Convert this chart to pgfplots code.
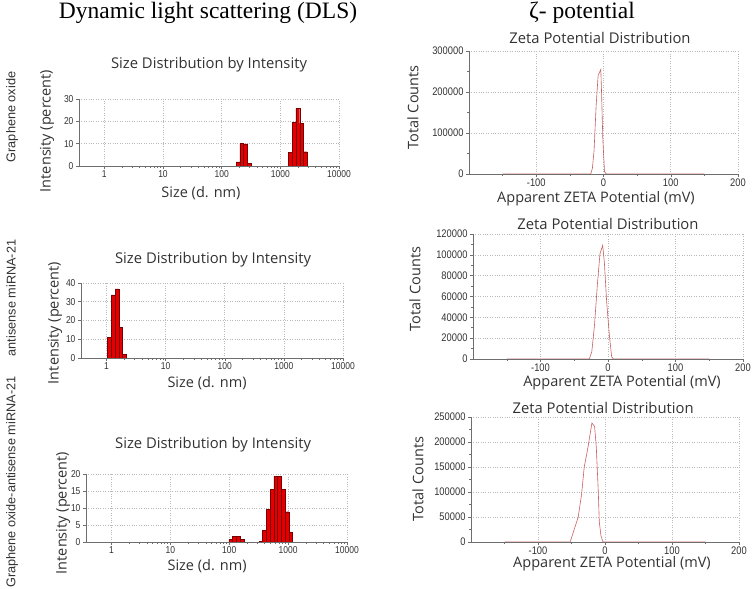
\documentclass[border=0pt]{standalone}
\usepackage{fontspec}
\setmainfont{Open Sans}
\newfontfamily\serifT{Liberation Serif}
\newfontfamily\arialT{Liberation Sans}
\newfontfamily\tickT[FakeStretch=0.85]{Liberation Sans}
\usepackage{pgfplots}
\pgfplotsset{compat=1.18}
\definecolor{barfill}{RGB}{228,0,0}
\definecolor{baredge}{RGB}{120,0,0}
\definecolor{zline}{RGB}{200,95,95}
\definecolor{gridc}{RGB}{185,185,185}
\definecolor{axc}{RGB}{110,110,110}
\definecolor{txt}{RGB}{50,50,50}
\pgfplotsset{
  every axis title shift=0pt,
  myBase/.style={scale only axis, axis x line*=bottom, axis y line*=left,
    axis line style={axc, line width=0.6pt},
    grid=major, grid style={gridc, dotted, line width=0.6pt},
    tick style={axc, line width=0.5pt}, major tick length=3pt, minor tick length=2pt,
    tick align=outside, scaled ticks=false,
    xticklabel shift=-2pt, yticklabel shift=-1pt,
    title style={font=\fontsize{14.8}{15}\selectfont, anchor=center, text=txt},
    label style={font=\fontsize{14.5}{15}\selectfont, text=txt},
    xlabel style={anchor=center}, ylabel style={anchor=center}},
  myDls/.style={myBase, xmin=0.37, xmax=10000,
    xtick={1,10,100,1000,10000}, xticklabels={1,10,100,1000,10000}, ymin=0,
    ticklabel style={font=\tickT\fontsize{10}{10}\selectfont, text=txt},
    title={Size Distribution by Intensity}, xlabel={Size (d. nm)}, ylabel={Intensity (percent)}},
  myZeta/.style={myBase, xmin=-200, xmax=200, xtick={-100,0,100,200}, xticklabels={-100,0,100,200},
    minor xtick={-150,-50,50,150}, ymin=0, minor y tick num=1,
    ticklabel style={font=\tickT\fontsize{11}{11}\selectfont, text=txt},
    title={Zeta Potential Distribution}, xlabel={Apparent ZETA Potential (mV)}, ylabel={Total Counts}},
}
\tikzset{
  myBars/.style={fill=barfill, draw=baredge, line width=0.4pt},
  myZl/.style={zline, line width=0.6pt},
}
\begin{document}
\begin{tikzpicture}
\useasboundingbox (0,0) rectangle (753pt,589pt);
% ---------------- DLS: Graphene oxide
\begin{axis}[xmode=log, myDls, at={(79pt,423pt)}, anchor=south west, width=260pt, height=67pt,
  ymax=30, ytick={0,10,20,30}, yticklabels={0,10,20,30},
  title style={at={(axis description cs:0.50,1.507)}},
  xlabel style={at={(axis description cs:0.469,-0.403)}},
  ylabel style={at={(axis description cs:-0.123,0.522)}}]
\addplot[ybar interval, myBars] table {
x y
176.7 1.9
204.6 10.2
237.0 9.85
274.4 1.2
317.8 0
};
\addplot[ybar interval, myBars] table {
x y
1378.8 6.1
1596.7 19.6
1849.0 25.8
2141.7 19.1
2480.4 6.4
2872.3 0
};
\end{axis}
% ---------------- DLS: antisense miRNA-21
\begin{axis}[xmode=log, myDls, at={(81pt,231pt)}, anchor=south west, width=262pt, height=75pt,
  ymax=40, ytick={0,10,20,30,40}, yticklabels={0,10,20,30,40},
  title style={at={(axis description cs:0.504,1.307)}},
  xlabel style={at={(axis description cs:0.481,-0.333)}},
  ylabel style={at={(axis description cs:-0.099,0.467)}}]
\addplot[ybar interval, myBars] table {
x y
1.038 11.0
1.202 33.6
1.393 36.8
1.613 16.4
1.868 2.1
2.163 0
};
\end{axis}
% ---------------- DLS: Graphene oxide-antisense miRNA-21
\begin{axis}[xmode=log, myDls, at={(86pt,47pt)}, anchor=south west, width=261pt, height=68pt,
  ymax=20, ytick={0,5,10,15,20}, yticklabels={0,5,10,15,20},
  title style={at={(axis description cs:0.487,1.426)}},
  xlabel style={at={(axis description cs:0.464,-0.353)}},
  ylabel style={at={(axis description cs:-0.088,0.426)}}]
\addplot[ybar interval, myBars] table {
x y
98.2 0.8
113.7 1.7
131.7 1.7
152.6 0.8
176.7 0
};
\addplot[ybar interval, myBars] table {
x y
317.8 0.2
368.1 3.5
426.3 9.5
493.6 15.4
571.6 19.4
662.0 19.4
766.6 15.4
887.8 8.9
1028.0 2.9
1190.4 0
};
\end{axis}
% ---------------- Zeta: Graphene oxide
\begin{axis}[myZeta, at={(469pt,415pt)}, anchor=south west, width=269pt, height=123pt,
  ymax=300000, ytick={0,100000,200000,300000}, yticklabels={0,100000,200000,300000},
  title style={at={(axis description cs:0.487,1.106)}},
  xlabel style={at={(axis description cs:0.472,-0.2)}},
  ylabel style={at={(axis description cs:-0.208,0.541)}}]
\addplot[myZl, mark=none] coordinates {(-150,0) (-19,0) (-16.5,14000) (-14,58000) (-11,165000) (-8,240000) (-4,255000) (-3,205000) (-1,85000) (1.5,6000) (4,0) (150,0)};
\end{axis}
% ---------------- Zeta: antisense miRNA-21
\begin{axis}[myZeta, at={(473pt,230pt)}, anchor=south west, width=270pt, height=125pt,
  ymax=120000, ytick={0,20000,40000,60000,80000,100000,120000},
  yticklabels={0,20000,40000,60000,80000,100000,120000},
  title style={at={(axis description cs:0.5,1.08)}},
  xlabel style={at={(axis description cs:0.552,-0.19)}},
  ylabel style={at={(axis description cs:-0.215,0.56)}}]
\addplot[myZl, mark=none] coordinates {(-150,0) (-27.7,0) (-24,7000) (-20,32600) (-15.8,71000) (-11.9,101000) (-7.9,109000) (-5.4,93000) (-2,55000) (2,23000) (5.4,2200) (7.9,0) (150,0)};
\end{axis}
% ---------------- Zeta: Graphene oxide-antisense miRNA-21
\begin{axis}[myZeta, at={(471pt,47pt)}, anchor=south west, width=268pt, height=125pt,
  ymax=250000, ytick={0,50000,100000,150000,200000,250000},
  yticklabels={0,50000,100000,150000,200000,250000},
  title style={at={(axis description cs:0.493,1.072)}},
  xlabel style={at={(axis description cs:0.526,-0.17)}},
  ylabel style={at={(axis description cs:-0.198,0.504)}}]
\addplot[myZl, mark=none] coordinates {(-150,0) (-52,0) (-40,50000) (-35,95000) (-31,150000) (-26,185000) (-19.5,238000) (-15.5,231000) (-13,190000) (-10,100000) (-8.5,40000) (-6,12000) (-3,0) (150,0)};
\end{axis}
% ---------------- headings and row labels
\node[font=\serifT\fontsize{23.5}{24}\selectfont] at (208pt,576pt) {Dynamic light scattering (DLS)};
\node[font=\serifT\fontsize{23.5}{24}\selectfont] at (582pt,576pt) {ζ- potential};
\node[rotate=90, font=\arialT\fontsize{12.7}{13}\selectfont, text=txt] at (12pt,472pt) {Graphene oxide};
\node[rotate=90, font=\arialT\fontsize{12.7}{13}\selectfont, text=txt] at (11pt,291pt) {antisense miRNA-21};
\node[rotate=90, font=\arialT\fontsize{12.7}{13}\selectfont, text=txt] at (12pt,107pt) {Graphene oxide-antisense miRNA-21};
\end{tikzpicture}
\end{document}
